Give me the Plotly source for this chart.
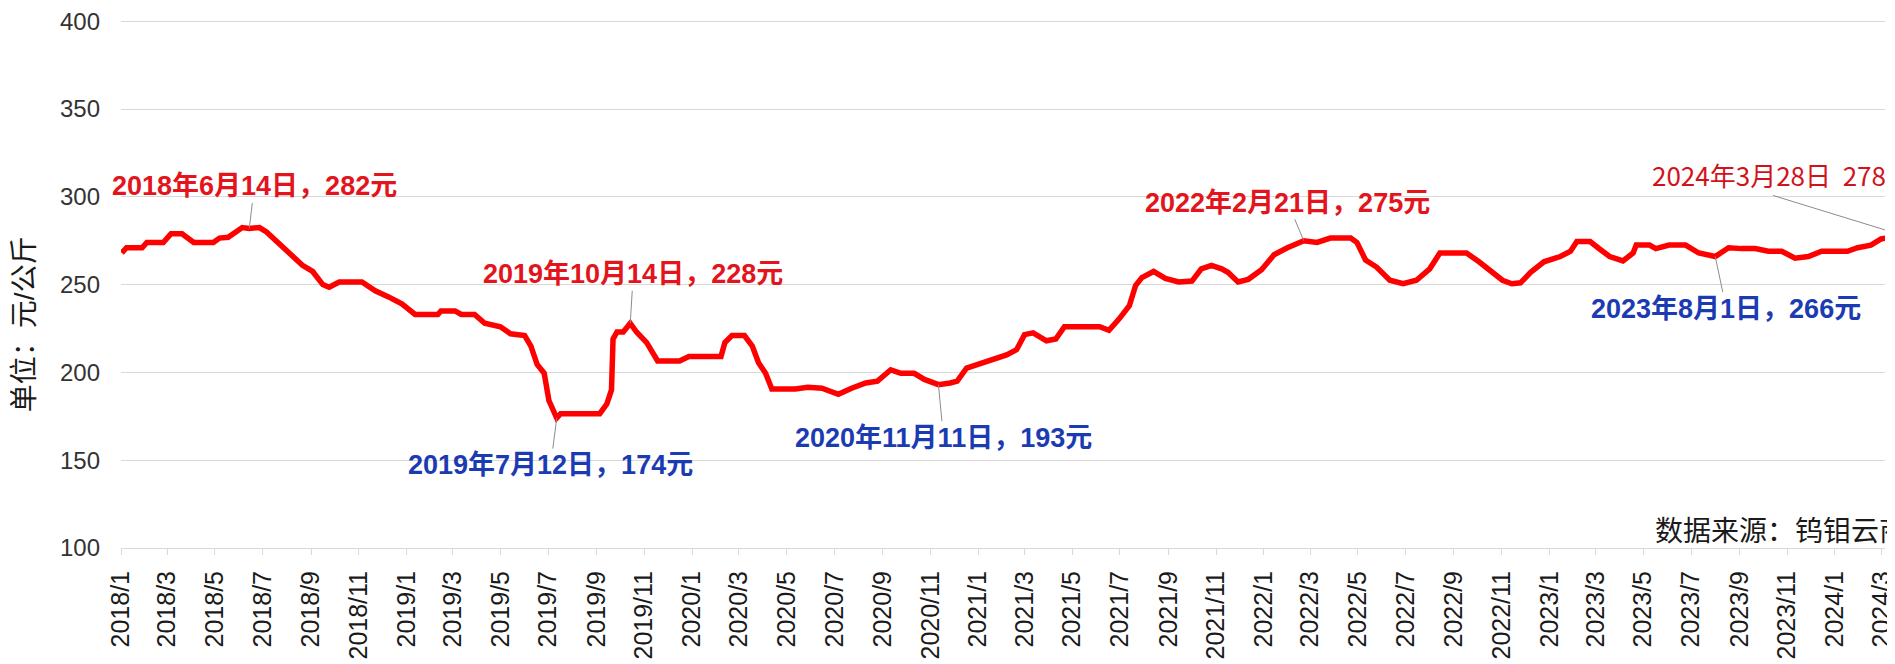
import plotly.graph_objects as go

# ---- data: daily price series (元/公斤) ----
dates = [
    "2018-01-02", "2018-01-08", "2018-01-28", "2018-02-03", "2018-02-24", "2018-03-06",
    "2018-03-20", "2018-04-04", "2018-04-29", "2018-05-07", "2018-05-18", "2018-05-29",
    "2018-06-05", "2018-06-14", "2018-06-27", "2018-07-06", "2018-07-19", "2018-08-04",
    "2018-08-21", "2018-09-03", "2018-09-16", "2018-09-24", "2018-10-07", "2018-11-05",
    "2018-11-22", "2018-12-09", "2018-12-26", "2019-01-12", "2019-02-10", "2019-02-14",
    "2019-03-04", "2019-03-12", "2019-03-29", "2019-04-11", "2019-05-01", "2019-05-14",
    "2019-06-01", "2019-06-09", "2019-06-17", "2019-06-26", "2019-07-02", "2019-07-12",
    "2019-07-17", "2019-09-05", "2019-09-14", "2019-09-20", "2019-09-22", "2019-09-27",
    "2019-10-05", "2019-10-14", "2019-10-22", "2019-11-04", "2019-11-18", "2019-12-16",
    "2019-12-28", "2020-02-07", "2020-02-12", "2020-02-21", "2020-03-08", "2020-03-18",
    "2020-03-26", "2020-04-04", "2020-04-12", "2020-05-12", "2020-05-28", "2020-06-15",
    "2020-07-06", "2020-07-23", "2020-08-10", "2020-08-25", "2020-09-11", "2020-09-24",
    "2020-10-11", "2020-10-24", "2020-11-11", "2020-11-26", "2020-12-05", "2020-12-17",
    "2021-01-03", "2021-01-20", "2021-02-06", "2021-02-19", "2021-03-01", "2021-03-12",
    "2021-03-29", "2021-04-10", "2021-04-21", "2021-06-05", "2021-06-17", "2021-06-30",
    "2021-07-13", "2021-07-21", "2021-07-29", "2021-08-13", "2021-08-28", "2021-09-14",
    "2021-10-01", "2021-10-13", "2021-10-26", "2021-11-08", "2021-11-16", "2021-11-29",
    "2021-12-12", "2021-12-29", "2022-01-14", "2022-01-31", "2022-02-21", "2022-03-10",
    "2022-03-27", "2022-04-22", "2022-04-30", "2022-05-11", "2022-05-25", "2022-06-11",
    "2022-06-28", "2022-07-15", "2022-08-01", "2022-08-14", "2022-09-17", "2022-10-03",
    "2022-10-20", "2022-11-02", "2022-11-14", "2022-11-25", "2022-12-08", "2022-12-25",
    "2023-01-15", "2023-01-28", "2023-02-05", "2023-02-22", "2023-03-07", "2023-03-19",
    "2023-04-05", "2023-04-18", "2023-04-22", "2023-05-09", "2023-05-17", "2023-06-03",
    "2023-06-24", "2023-07-11", "2023-08-01", "2023-08-18", "2023-09-04", "2023-09-21",
    "2023-10-08", "2023-10-25", "2023-11-11", "2023-11-28", "2023-12-15", "2024-01-17",
    "2024-01-30", "2024-02-16", "2024-02-29", "2024-03-28",
]
prices = [
    268, 271, 271, 274, 274, 279,
    279, 274, 274, 276.5, 277, 280,
    282.5, 282, 282.5, 280, 274.5, 268,
    261, 257.5, 250, 248.5, 251.5, 251.5,
    246.5, 243, 239, 233, 233, 235,
    235, 233, 233, 228, 226, 222,
    221, 215, 204.5, 199.5, 184, 174,
    176.5, 176.5, 182, 190, 219, 223,
    223, 228, 223, 217, 206.5, 206.5,
    209, 209, 217, 221, 221, 215,
    205.5, 199.5, 190.5, 190.5, 191.5, 191,
    187.5, 191, 194, 195, 201.5, 199.5,
    199.5, 196, 193, 194, 195, 202.5,
    205, 207.5, 210, 213, 221.5, 222.5,
    218, 219, 226, 226, 224, 230.5,
    238, 249.5, 254, 257.5, 253.5, 251.5,
    252, 259, 261, 259, 257, 251.5,
    253, 258.5, 267, 271, 275, 274,
    276.5, 276.5, 274, 264, 260, 252.5,
    250.5, 252.5, 259, 268, 268, 263,
    257.5, 252.5, 250.5, 251, 257, 263,
    266, 269, 274.5, 274.5, 270, 266,
    263.5, 268, 272.5, 272.5, 270.5, 272.5,
    272.5, 268, 266, 271, 270.5, 270.5,
    269, 269, 265, 266, 269, 269,
    271, 272.5, 276, 278,
]

# ---- annotated points ----
note_dates = ["2018-06-14", "2019-07-12", "2019-10-14", "2020-11-11", "2022-02-21", "2023-08-01"]
note_values = [282, 174, 228, 193, 275, 266]
note_texts = ["2018年6月14日，282元", "2019年7月12日，174元", "2019年10月14日，228元",
              "2020年11月11日，193元", "2022年2月21日，275元", "2023年8月1日，266元"]
note_kinds = ["high", "low", "high", "low", "high", "low"]
note_offsets = [(5, -42), (-6, 47), (3, -49), (5, 53), (-16, -38), (11, 52)]

last_date = "2024-03-28"
last_value = 278
last_text = "2024年3月28日  278元"

source_text = "数据来源：钨钼云商"
y_title = "单位：元/公斤"

RED_TXT = "#E3141C"
BLUE_TXT = "#1B3BB3"
BASE_FONT = "Arial, 'Liberation Sans', 'Noto Sans CJK SC', sans-serif"

fig = go.Figure()
fig.add_trace(go.Scatter(
    x=dates, y=prices, mode="lines",
    line=dict(color="#FF0000", width=5.5),
    hoverinfo="skip", showlegend=False,
))

annotations = []
for d, v, t, k, (ox, oy) in zip(note_dates, note_values, note_texts, note_kinds, note_offsets):
    annotations.append(dict(
        x=d, y=v, xref="x", yref="y", text=t,
        showarrow=True, arrowhead=0, arrowwidth=1, arrowcolor="#8C8C8C",
        ax=ox, ay=oy,
        font=dict(family="'Liberation Sans', 'Noto Sans CJK SC', sans-serif", size=27,
                  color=RED_TXT if k == "high" else BLUE_TXT, weight="bold"),
    ))

# last (partly cut) annotation
annotations.append(dict(
    x=1, y=1, xref="paper", yref="paper", xanchor="left", yanchor="middle",
    xshift=-235, yshift=-154, text=last_text, showarrow=False,
    font=dict(family="'Noto Sans CJK SC', sans-serif", size=26, color="#D2121A"),
))
# source note (partly cut)
annotations.append(dict(
    x=1, y=0, xref="paper", yref="paper", xanchor="left", yanchor="bottom",
    xshift=-232, yshift=-3, text=source_text, showarrow=False,
    font=dict(family="'Noto Sans CJK SC', sans-serif", size=28, color="#1A1A1A"),
))
# y-axis title
annotations.append(dict(
    x=0, y=0.424, xref="paper", yref="paper", xanchor="center", yanchor="middle",
    xshift=-97, text=y_title, textangle=-90, showarrow=False,
    font=dict(family=BASE_FONT, size=28, color="#1A1A1A"),
))

# the page body adds an 8px margin on the left and top; compensate for it
fig.update_layout(
    width=1887, height=656,
    margin=dict(l=113, r=0, t=9, b=116),
    paper_bgcolor="white", plot_bgcolor="white",
    font=dict(family=BASE_FONT, color="#333333"),
    annotations=annotations,
    shapes=[dict(
        type="line", xref="x", yref="y",
        xsizemode="pixel", ysizemode="pixel",
        xanchor=last_date, yanchor=last_value,
        x0=-130, x1=0, y0=40, y1=0,
        line=dict(color="#8C8C8C", width=1),
    )],
)
fig.update_xaxes(
    type="date", range=["2018-01-01", "2024-03-05"],
    tick0="2018-01-01", dtick="M2", tickformat="%Y/%-m",
    tickangle=-90, tickfont=dict(size=25, color="#1A1A1A"),
    showgrid=False, showline=True, linecolor="#D9D9D9", linewidth=1,
    ticks="outside", ticklen=6, tickcolor="#D9D9D9",
    ticklabelstandoff=6,
    ticklabeloverflow="allow", zeroline=False,
)
fig.update_yaxes(
    range=[100, 400.7], dtick=50, tick0=100,
    showgrid=True, gridcolor="#D9D9D9", gridwidth=1,
    zeroline=False, showline=False,
    tickfont=dict(size=24, color="#333333"),
    ticklabelstandoff=20, ticklabeloverflow="allow",
)

fig.write_html("out.html")
